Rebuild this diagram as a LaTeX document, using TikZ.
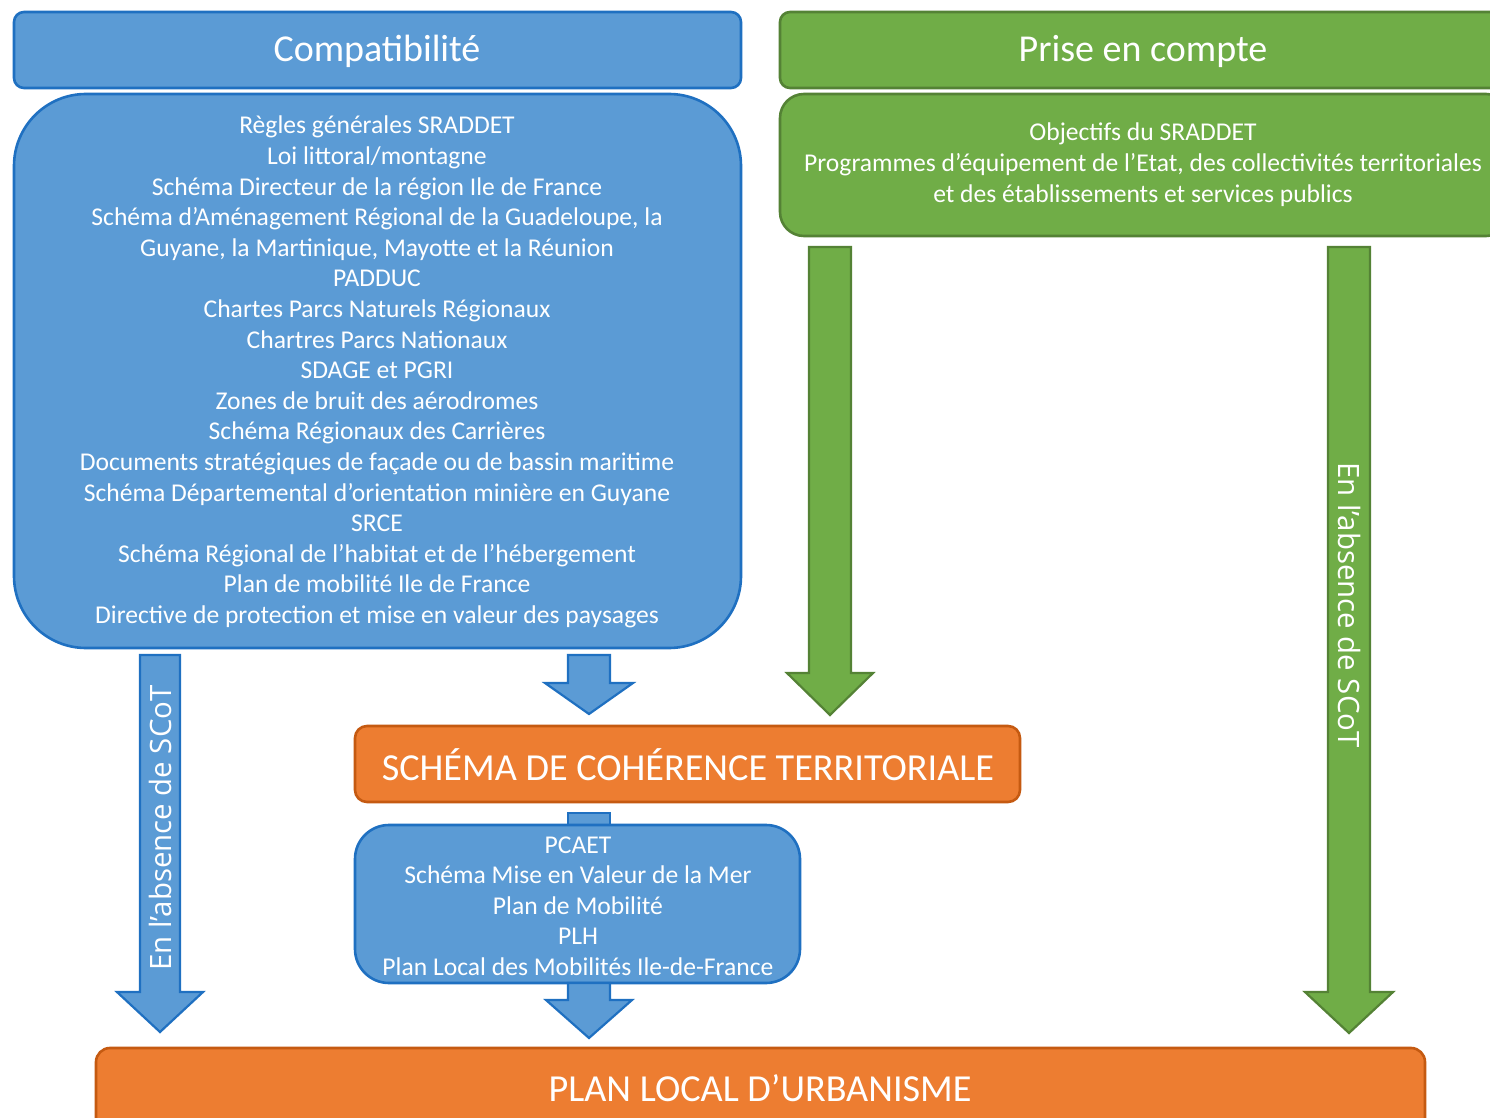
\documentclass[tikz,border=0pt]{standalone}
\usepackage{fontspec}
\setmainfont{Carlito}
\newfontfamily\sidefont{Open Sans}
\usetikzlibrary{calc,fit}
\definecolor{bfill}{HTML}{5B9BD5}
\definecolor{bline}{HTML}{1F70C1}
\definecolor{gfill}{HTML}{70AD47}
\definecolor{gline}{HTML}{548235}
\definecolor{ofill}{HTML}{ED7D31}
\definecolor{oline}{HTML}{C55A11}
\tikzset{
  bluebox/.style={draw=bline, fill=bfill, line width=1.3pt, inner sep=0pt},
  greenbox/.style={draw=gline, fill=gfill, line width=1.3pt, inner sep=0pt},
  orangebox/.style={draw=oline, fill=ofill, line width=1.3pt, inner sep=0pt},
  txt/.style={text=white, align=center, inner sep=0pt},
  bluearr/.style={draw=bline, fill=bfill, line width=1.1pt, line join=miter},
  greenarr/.style={draw=gline, fill=gfill, line width=1.1pt, line join=miter},
}
% #1 style, #2 start, #3 tip, #4 shaft half width, #5 head half width, #6 head length
\newcommand\blockarr[6]{%
  \draw[#1] ($(#2)+(-#4,0)$) -- ($(#2)+(#4,0)$) -- ($(#3)+(#4,-#6)$) -- ($(#3)+(#5,-#6)$)
    -- (#3) -- ($(#3)+(-#5,-#6)$) -- ($(#3)+(-#4,-#6)$) -- cycle;}
\begin{document}
\begin{tikzpicture}[x=0.5pt,y=-0.5pt]
\clip (0,0) rectangle (1490,1118);
\fill[white] (0,0) rectangle (1490,1118);

% headers
\node[bluebox, rounded corners=5pt, fit={(14,12)(741,88)}] (hcomp) {};
\node[txt, font=\fontsize{19}{23}\selectfont] (thcomp) at (377,51) {Compatibilité};
\node[greenbox, rounded corners=5pt, fit={(780,12)(1510,88)}] (hprise) {};
\node[txt, font=\fontsize{19}{23}\selectfont] (thprise) at (1143,51) {Prise en compte};

% big blue box
\node[bluebox, rounded corners=36pt, fit={(14,94)(741,648)}] (comp) {};
\node[txt, font=\fontsize{12.8}{15.3}\selectfont] (tcomp) at (377,372) {Règles générales SRADDET\\
Loi littoral/montagne\\
Schéma Directeur de la région Ile de France\\
Schéma d’Aménagement Régional de la Guadeloupe, la\\
Guyane, la Martinique, Mayotte et la Réunion\\
PADDUC\\
Chartes Parcs Naturels Régionaux\\
Chartres Parcs Nationaux\\
SDAGE et PGRI\\
Zones de bruit des aérodromes\\
Schéma Régionaux des Carrières\\
Documents stratégiques de façade ou de bassin maritime\\
Schéma Départemental d’orientation minière en Guyane\\
SRCE\\
Schéma Régional de l’habitat et de l’hébergement\\
Plan de mobilité Ile de France\\
Directive de protection et mise en valeur des paysages};

% green box
\node[greenbox, rounded corners=12pt, fit={(780,94)(1510,236)}] (prise) {};
\node[txt, font=\fontsize{12.8}{15.5}\selectfont] (tprise) at (1143,165) {Objectifs du SRADDET\\
Programmes d’équipement de l’Etat, des collectivités territoriales\\
et des établissements et services publics};

% SCoT
\node[orangebox, rounded corners=6pt, fit={(355,726)(1020,802)}] (scot) {};
\node[txt, font=\fontsize{19.1}{23}\selectfont] (tscot) at (688,765) {SCHÉMA DE COHÉRENCE TERRITORIALE};

% stub between SCoT and second blue box (partly hidden by the box)
\coordinate (stubs) at (589,813);
\draw[bluearr] ($(stubs)+(-21,0)$) rectangle ($(stubs)+(21,20)$);

% second blue box
\node[bluebox, rounded corners=17pt, fit={(355,825)(800,983)}] (docs) {};
\node[txt, font=\fontsize{12.8}{15.2}\selectfont] (tdocs) at (578,906) {PCAET\\
Schéma Mise en Valeur de la Mer\\
Plan de Mobilité\\
PLH\\
Plan Local des Mobilités Ile-de-France};

% PLU
\node[orangebox, rounded corners=7pt, fit={(96,1048)(1425,1140)}] (plu) {};
\node[txt, font=\fontsize{19.1}{23}\selectfont] (tplu) at (760,1088) {PLAN LOCAL D’URBANISME};

% arrow anchor coordinates
\coordinate (ga1s) at (830,247);  \coordinate (ga1e) at (830,715);
\coordinate (ga2s) at (1349,247); \coordinate (ga2e) at (1349,1033);
\coordinate (ba1s) at (160,655);  \coordinate (ba1e) at (160,1032);
\coordinate (ba2s) at (589,655);  \coordinate (ba2e) at (589,714);
\coordinate (ba3s) at (589,983);  \coordinate (ba3e) at (589,1038);

% arrows
\blockarr{greenarr}{ga1s}{ga1e}{21}{43}{42}
\blockarr{greenarr}{ga2s}{ga2e}{21}{44}{41}
\blockarr{bluearr}{ba1s}{ba1e}{20}{43}{40}
\blockarr{bluearr}{ba2s}{ba2e}{21}{44}{31}
\blockarr{bluearr}{ba3s}{ba3e}{21}{43}{38}

% side labels
\node[txt, rotate=90, font=\sidefont\fontsize{14.7}{17}\selectfont] (lside) at (160,828) {En l’absence de SCoT};
\node[txt, rotate=-90, font=\sidefont\fontsize{14.7}{17}\selectfont] (rside) at (1350,605) {En l’absence de SCoT};
\end{tikzpicture}
\end{document}
